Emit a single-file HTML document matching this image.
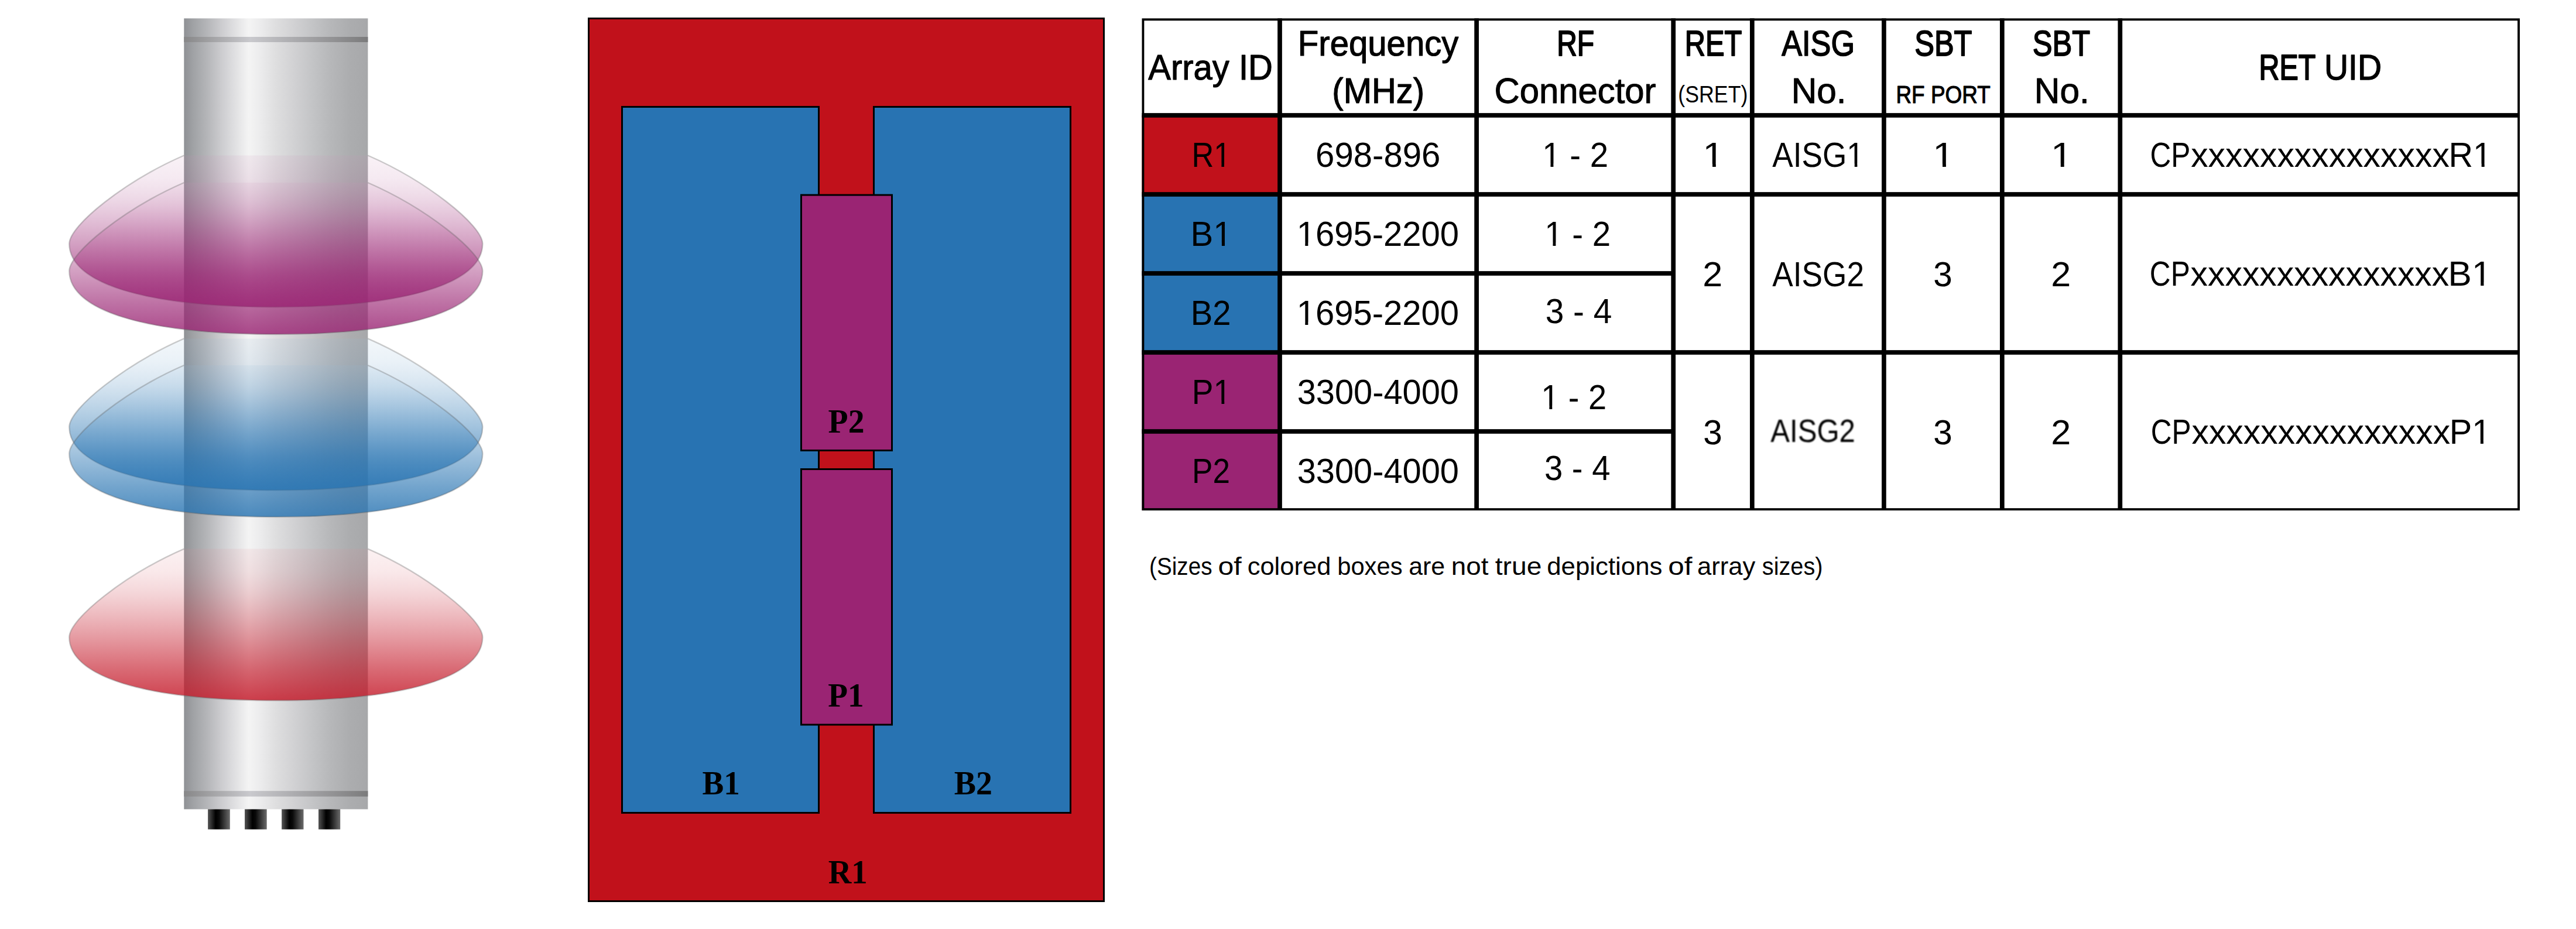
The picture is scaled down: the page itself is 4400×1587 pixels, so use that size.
<!DOCTYPE html>
<html lang="en"><head><meta charset="utf-8"><title>Antenna array layout</title>
<style>html,body{margin:0;padding:0;background:#fff}svg{display:block}text{font-kerning:normal}</style></head><body>
<svg width="4400" height="1587" viewBox="0 0 4400 1587">
<defs>
<linearGradient id="cyl" x1="0" y1="0" x2="1" y2="0"><stop offset="0" stop-color="#8f9195"/><stop offset="0.05" stop-color="#a0a2a5"/><stop offset="0.12" stop-color="#b3b4b7"/><stop offset="0.2" stop-color="#cbcbce"/><stop offset="0.27" stop-color="#dedee0"/><stop offset="0.352" stop-color="#f4f4f4"/><stop offset="0.42" stop-color="#ebebec"/><stop offset="0.5" stop-color="#dededf"/><stop offset="0.6" stop-color="#d1d1d3"/><stop offset="0.7" stop-color="#c3c4c6"/><stop offset="0.8" stop-color="#b6b7b9"/><stop offset="0.9" stop-color="#acadaf"/><stop offset="1" stop-color="#a7a8aa"/></linearGradient>
<linearGradient id="band" x1="0" y1="0" x2="1" y2="0"><stop offset="0" stop-color="#878788"/><stop offset="0.36" stop-color="#c9c9cd"/><stop offset="1" stop-color="#7b7b7c"/></linearGradient>
<linearGradient id="conn" x1="0" y1="0" x2="1" y2="0"><stop offset="0" stop-color="#555"/><stop offset="0.35" stop-color="#000"/><stop offset="0.5" stop-color="#0a0a0a"/><stop offset="1" stop-color="#6c6c6c"/></linearGradient>
<linearGradient id="gR" x1="0" y1="0" x2="0" y2="1"><stop offset="0" stop-color="rgb(226,140,148)" stop-opacity="0.12"/><stop offset="0.15" stop-color="rgb(214,93,104)" stop-opacity="0.14"/><stop offset="0.3" stop-color="rgb(203,52,66)" stop-opacity="0.21"/><stop offset="0.6" stop-color="rgb(196,24,40)" stop-opacity="0.45"/><stop offset="0.8" stop-color="rgb(196,24,40)" stop-opacity="0.65"/><stop offset="1" stop-color="rgb(196,24,40)" stop-opacity="0.83"/></linearGradient>
<linearGradient id="gB" x1="0" y1="0" x2="0" y2="1"><stop offset="0" stop-color="rgb(148,186,216)" stop-opacity="0.12"/><stop offset="0.15" stop-color="rgb(104,158,201)" stop-opacity="0.14"/><stop offset="0.3" stop-color="rgb(66,133,187)" stop-opacity="0.21"/><stop offset="0.6" stop-color="rgb(40,116,178)" stop-opacity="0.45"/><stop offset="0.8" stop-color="rgb(40,116,178)" stop-opacity="0.65"/><stop offset="1" stop-color="rgb(40,116,178)" stop-opacity="0.83"/></linearGradient>
<linearGradient id="gP" x1="0" y1="0" x2="0" y2="1"><stop offset="0" stop-color="rgb(204,146,185)" stop-opacity="0.12"/><stop offset="0.15" stop-color="rgb(184,102,157)" stop-opacity="0.14"/><stop offset="0.3" stop-color="rgb(166,62,132)" stop-opacity="0.21"/><stop offset="0.6" stop-color="rgb(154,36,115)" stop-opacity="0.45"/><stop offset="0.8" stop-color="rgb(154,36,115)" stop-opacity="0.65"/><stop offset="1" stop-color="rgb(154,36,115)" stop-opacity="0.83"/></linearGradient>
<filter id="blur" x="-5%" y="-20%" width="110%" height="140%"><feGaussianBlur stdDeviation="0.9"/></filter>
</defs>
<rect x="314.3" y="31.4" width="314.1" height="1351" fill="url(#cyl)"/>
<rect x="314.3" y="63" width="314.1" height="9" fill="url(#band)"/>
<rect x="314.3" y="1351.2" width="314.1" height="9.5" fill="url(#band)"/>
<rect x="355.1" y="1382.4" width="37.7" height="34.4" fill="url(#conn)"/>
<rect x="418" y="1382.4" width="37.7" height="34.4" fill="url(#conn)"/>
<rect x="481.1" y="1382.4" width="37.4" height="34.4" fill="url(#conn)"/>
<rect x="544" y="1382.4" width="37.2" height="34.4" fill="url(#conn)"/>
<path d="M314.3,265.5 L628.3,265.5 C728.4,309.1 824.3,384.9 824.3,416.5 C824.3,483.7 694.0,524.5 471.3,524.5 C248.6,524.5 118.3,483.7 118.3,416.5 C118.3,384.9 214.2,309.1 314.3,265.5 Z" fill="url(#gP)"/>
<path d="M628.3,265.5 C728.4,309.1 824.3,384.9 824.3,416.5 C824.3,483.7 694.0,524.5 471.3,524.5 C248.6,524.5 118.3,483.7 118.3,416.5 C118.3,384.9 214.2,309.1 314.3,265.5" fill="none" stroke="#606060" stroke-opacity="0.32" stroke-width="2.4"/>
<path d="M314.3,312.0 L628.3,312.0 C728.4,355.6 824.3,431.4 824.3,463.0 C824.3,530.2 694.0,571.0 471.3,571.0 C248.6,571.0 118.3,530.2 118.3,463.0 C118.3,431.4 214.2,355.6 314.3,312.0 Z" fill="url(#gP)"/>
<path d="M628.3,312.0 C728.4,355.6 824.3,431.4 824.3,463.0 C824.3,530.2 694.0,571.0 471.3,571.0 C248.6,571.0 118.3,530.2 118.3,463.0 C118.3,431.4 214.2,355.6 314.3,312.0" fill="none" stroke="#606060" stroke-opacity="0.32" stroke-width="2.4"/>
<path d="M314.3,578.4 L628.3,578.4 C728.4,622.0 824.3,697.8 824.3,729.4 C824.3,796.6 694.0,837.4 471.3,837.4 C248.6,837.4 118.3,796.6 118.3,729.4 C118.3,697.8 214.2,622.0 314.3,578.4 Z" fill="url(#gB)"/>
<path d="M628.3,578.4 C728.4,622.0 824.3,697.8 824.3,729.4 C824.3,796.6 694.0,837.4 471.3,837.4 C248.6,837.4 118.3,796.6 118.3,729.4 C118.3,697.8 214.2,622.0 314.3,578.4" fill="none" stroke="#606060" stroke-opacity="0.32" stroke-width="2.4"/>
<path d="M314.3,624.0 L628.3,624.0 C728.4,667.6 824.3,743.4 824.3,775.0 C824.3,842.2 694.0,883.0 471.3,883.0 C248.6,883.0 118.3,842.2 118.3,775.0 C118.3,743.4 214.2,667.6 314.3,624.0 Z" fill="url(#gB)"/>
<path d="M628.3,624.0 C728.4,667.6 824.3,743.4 824.3,775.0 C824.3,842.2 694.0,883.0 471.3,883.0 C248.6,883.0 118.3,842.2 118.3,775.0 C118.3,743.4 214.2,667.6 314.3,624.0" fill="none" stroke="#606060" stroke-opacity="0.32" stroke-width="2.4"/>
<path d="M314.3,937.6 L628.3,937.6 C728.4,981.2 824.3,1057.0 824.3,1088.6 C824.3,1155.8 694.0,1196.6 471.3,1196.6 C248.6,1196.6 118.3,1155.8 118.3,1088.6 C118.3,1057.0 214.2,981.2 314.3,937.6 Z" fill="url(#gR)"/>
<path d="M628.3,937.6 C728.4,981.2 824.3,1057.0 824.3,1088.6 C824.3,1155.8 694.0,1196.6 471.3,1196.6 C248.6,1196.6 118.3,1155.8 118.3,1088.6 C118.3,1057.0 214.2,981.2 314.3,937.6" fill="none" stroke="#606060" stroke-opacity="0.32" stroke-width="2.4"/>
<rect x="1005.5" y="31.5" width="880" height="1508" fill="#c1111b" stroke="#000" stroke-width="3"/>
<rect x="1062.5" y="182.5" width="336" height="1206" fill="#2873b2" stroke="#000" stroke-width="3"/>
<rect x="1492.5" y="182.5" width="336" height="1206" fill="#2873b2" stroke="#000" stroke-width="3"/>
<rect x="1368.5" y="333.1" width="155" height="436.4" fill="#9a2473" stroke="#000" stroke-width="3"/>
<rect x="1368.5" y="801.5" width="155" height="436.5" fill="#9a2473" stroke="#000" stroke-width="3"/>
<rect x="1950.5" y="197" width="235.5" height="135" fill="#c1111b"/>
<rect x="1950.5" y="332" width="235.5" height="135" fill="#2873b2"/>
<rect x="1950.5" y="467" width="235.5" height="135" fill="#2873b2"/>
<rect x="1950.5" y="602" width="235.5" height="135" fill="#9a2473"/>
<rect x="1950.5" y="737" width="235.5" height="135" fill="#9a2473"/>
<rect x="2182.15" y="31.4" width="7.7" height="840.6" fill="#000"/>
<rect x="2518.25" y="31.4" width="7.7" height="840.6" fill="#000"/>
<rect x="2854.35" y="31.4" width="7.7" height="840.6" fill="#000"/>
<rect x="2988.95" y="31.4" width="7.7" height="840.6" fill="#000"/>
<rect x="3214.05" y="31.4" width="7.7" height="840.6" fill="#000"/>
<rect x="3415.95" y="31.4" width="7.7" height="840.6" fill="#000"/>
<rect x="3617.45" y="31.4" width="7.7" height="840.6" fill="#000"/>
<rect x="1950.5" y="193.15" width="2353.5" height="7.7" fill="#000"/>
<rect x="1950.5" y="328.15" width="2353.5" height="7.7" fill="#000"/>
<rect x="1950.5" y="463.15" width="907.7" height="7.7" fill="#000"/>
<rect x="1950.5" y="598.15" width="2353.5" height="7.7" fill="#000"/>
<rect x="1950.5" y="733.15" width="907.7" height="7.7" fill="#000"/>
<rect x="1952.42" y="33.325" width="2349.65" height="836.75" fill="none" stroke="#000" stroke-width="3.85"/>
<text transform="translate(1961.22,135.80) scale(0.9479,1)" font-family="'Liberation Sans', Arial, sans-serif" font-size="61.2" fill="#000" stroke="#000" stroke-width="1.2" stroke-linejoin="round">Array ID</text>
<text transform="translate(2216.77,95.30) scale(0.9500,1)" font-family="'Liberation Sans', Arial, sans-serif" font-size="61.2" fill="#000" stroke="#000" stroke-width="1.19" stroke-linejoin="round">Frequency</text>
<text transform="translate(2275.35,175.90) scale(0.9468,1)" font-family="'Liberation Sans', Arial, sans-serif" font-size="61.2" fill="#000" stroke="#000" stroke-width="1.2" stroke-linejoin="round">(MHz)</text>
<text transform="translate(2659.19,95.30) scale(0.7834,1)" font-family="'Liberation Sans', Arial, sans-serif" font-size="61.2" fill="#000" stroke="#000" stroke-width="2.15" stroke-linejoin="round">RF</text>
<text transform="translate(2552.53,175.90) scale(0.9772,1)" font-family="'Liberation Sans', Arial, sans-serif" font-size="61.2" fill="#000" stroke="#000" stroke-width="1.06" stroke-linejoin="round">Connector</text>
<text transform="translate(2877.79,95.30) scale(0.7973,1)" font-family="'Liberation Sans', Arial, sans-serif" font-size="61.2" fill="#000" stroke="#000" stroke-width="2.05" stroke-linejoin="round">RET</text>
<text transform="translate(2866.37,174.90) scale(0.8822,1)" font-family="'Liberation Sans', Arial, sans-serif" font-size="40.5" fill="#000">(SRET)</text>
<text transform="translate(3043.20,95.30) scale(0.8539,1)" font-family="'Liberation Sans', Arial, sans-serif" font-size="61.2" fill="#000" stroke="#000" stroke-width="1.7" stroke-linejoin="round">AISG</text>
<text transform="translate(3059.63,175.90) scale(0.9856,1)" font-family="'Liberation Sans', Arial, sans-serif" font-size="61.2" fill="#000" stroke="#000" stroke-width="1.02" stroke-linejoin="round">No.</text>
<text transform="translate(3270.20,95.30) scale(0.8255,1)" font-family="'Liberation Sans', Arial, sans-serif" font-size="61.2" fill="#000" stroke="#000" stroke-width="1.87" stroke-linejoin="round">SBT</text>
<text transform="translate(3238.46,175.70) scale(0.8588,1)" font-family="'Liberation Sans', Arial, sans-serif" font-size="43" fill="#000" stroke="#000" stroke-width="1.17" stroke-linejoin="round">RF PORT</text>
<text transform="translate(3471.69,95.30) scale(0.8265,1)" font-family="'Liberation Sans', Arial, sans-serif" font-size="61.2" fill="#000" stroke="#000" stroke-width="1.86" stroke-linejoin="round">SBT</text>
<text transform="translate(3474.83,175.90) scale(0.9856,1)" font-family="'Liberation Sans', Arial, sans-serif" font-size="61.2" fill="#000" stroke="#000" stroke-width="1.02" stroke-linejoin="round">No.</text>
<text transform="translate(3858.53,136.00) scale(0.7919,1)" font-family="'Liberation Sans', Arial, sans-serif" font-size="61.2" fill="#000" stroke="#000" stroke-width="2.09" stroke-linejoin="round">RET</text>
<text transform="translate(3969.88,136.00) scale(0.9319,1)" font-family="'Liberation Sans', Arial, sans-serif" font-size="61.2" fill="#000" stroke="#000" stroke-width="1.28" stroke-linejoin="round">UID</text>
<clipPath id="k1"><path clip-rule="evenodd" d="M-20,-100 H94.7 V40 H-20 Z M45.10,-5.26 H56.92 V4 H45.10 Z M62.03,-5.26 H75.46 V4 H62.03 Z"/></clipPath>
<text transform="translate(2035.38,285.10) scale(0.8964,1)" font-family="'Liberation Sans', Arial, sans-serif" font-size="58.4" fill="#000" clip-path="url(#k1)">R1</text>
<text transform="translate(2247.09,285.10) scale(0.9951,1)" font-family="'Liberation Sans', Arial, sans-serif" font-size="58.4" fill="#000">698-896</text>
<clipPath id="k2"><path clip-rule="evenodd" d="M-20,-100 H136.9 V40 H-20 Z M2.92,-5.26 H14.75 V4 H2.92 Z M19.86,-5.26 H33.29 V4 H19.86 Z"/></clipPath>
<text transform="translate(2634.17,285.10) scale(0.9679,1)" font-family="'Liberation Sans', Arial, sans-serif" font-size="58.4" fill="#000" clip-path="url(#k2)">1 - 2</text>
<clipPath id="k3"><path clip-rule="evenodd" d="M-20,-100 H52.5 V40 H-20 Z M2.92,-5.26 H14.75 V4 H2.92 Z M19.86,-5.26 H33.29 V4 H19.86 Z"/></clipPath>
<text transform="translate(2908.37,285.10) scale(1.1299,1)" font-family="'Liberation Sans', Arial, sans-serif" font-size="58.4" fill="#000" clip-path="url(#k3)">1</text>
<clipPath id="k4"><path clip-rule="evenodd" d="M-20,-100 H192.0 V40 H-20 Z M142.48,-5.26 H154.30 V4 H142.48 Z M159.41,-5.26 H172.85 V4 H159.41 Z"/></clipPath>
<text transform="translate(3027.27,285.10) scale(0.9103,1)" font-family="'Liberation Sans', Arial, sans-serif" font-size="58.4" fill="#000" clip-path="url(#k4)">AISG1</text>
<clipPath id="k5"><path clip-rule="evenodd" d="M-20,-100 H52.5 V40 H-20 Z M2.92,-5.26 H14.75 V4 H2.92 Z M19.86,-5.26 H33.29 V4 H19.86 Z"/></clipPath>
<text transform="translate(3301.05,285.10) scale(1.1509,1)" font-family="'Liberation Sans', Arial, sans-serif" font-size="58.4" fill="#000" clip-path="url(#k5)">1</text>
<clipPath id="k6"><path clip-rule="evenodd" d="M-20,-100 H52.5 V40 H-20 Z M2.92,-5.26 H14.75 V4 H2.92 Z M19.86,-5.26 H33.29 V4 H19.86 Z"/></clipPath>
<text transform="translate(3502.71,285.10) scale(1.1579,1)" font-family="'Liberation Sans', Arial, sans-serif" font-size="58.4" fill="#000" clip-path="url(#k6)">1</text>
<text transform="translate(3672.42,285.10) scale(0.8498,1)" font-family="'Liberation Sans', Arial, sans-serif" font-size="58.4" fill="#000">CP</text>
<text transform="translate(3742.16,285.10) scale(1.0086,1)" font-family="'Liberation Sans', Arial, sans-serif" font-size="58.4" fill="#000">xxxxxxxxxxxxxxx</text>
<clipPath id="k7"><path clip-rule="evenodd" d="M-20,-100 H94.7 V40 H-20 Z M45.10,-5.26 H56.92 V4 H45.10 Z M62.03,-5.26 H75.46 V4 H62.03 Z"/></clipPath>
<text transform="translate(4182.44,285.10) scale(0.9872,1)" font-family="'Liberation Sans', Arial, sans-serif" font-size="58.4" fill="#000" clip-path="url(#k7)">R1</text>
<clipPath id="k8"><path clip-rule="evenodd" d="M-20,-100 H91.4 V40 H-20 Z M41.87,-5.26 H53.70 V4 H41.87 Z M58.81,-5.26 H72.24 V4 H58.81 Z"/></clipPath>
<text transform="translate(2033.51,420.10) scale(0.9941,1)" font-family="'Liberation Sans', Arial, sans-serif" font-size="58.4" fill="#000" clip-path="url(#k8)">B1</text>
<clipPath id="k9"><path clip-rule="evenodd" d="M-20,-100 H299.3 V40 H-20 Z M2.92,-5.26 H14.75 V4 H2.92 Z M19.86,-5.26 H33.29 V4 H19.86 Z"/></clipPath>
<text transform="translate(2214.63,420.10) scale(0.9932,1)" font-family="'Liberation Sans', Arial, sans-serif" font-size="58.4" fill="#000" clip-path="url(#k9)">1695-2200</text>
<clipPath id="k10"><path clip-rule="evenodd" d="M-20,-100 H136.9 V40 H-20 Z M2.92,-5.26 H14.75 V4 H2.92 Z M19.86,-5.26 H33.29 V4 H19.86 Z"/></clipPath>
<text transform="translate(2638.18,420.10) scale(0.9670,1)" font-family="'Liberation Sans', Arial, sans-serif" font-size="58.4" fill="#000" clip-path="url(#k10)">1 - 2</text>
<text transform="translate(2033.65,555.20) scale(0.9646,1)" font-family="'Liberation Sans', Arial, sans-serif" font-size="58.4" fill="#000">B2</text>
<clipPath id="k11"><path clip-rule="evenodd" d="M-20,-100 H299.3 V40 H-20 Z M2.92,-5.26 H14.75 V4 H2.92 Z M19.86,-5.26 H33.29 V4 H19.86 Z"/></clipPath>
<text transform="translate(2214.63,555.20) scale(0.9932,1)" font-family="'Liberation Sans', Arial, sans-serif" font-size="58.4" fill="#000" clip-path="url(#k11)">1695-2200</text>
<text transform="translate(2639.67,551.80) scale(0.9734,1)" font-family="'Liberation Sans', Arial, sans-serif" font-size="58.4" fill="#000">3 - 4</text>
<text transform="translate(2908.35,488.50) scale(1.0462,1)" font-family="'Liberation Sans', Arial, sans-serif" font-size="58.4" fill="#000">2</text>
<text transform="translate(3027.27,488.50) scale(0.9111,1)" font-family="'Liberation Sans', Arial, sans-serif" font-size="58.4" fill="#000">AISG2</text>
<text transform="translate(3302.31,488.50) scale(1.0022,1)" font-family="'Liberation Sans', Arial, sans-serif" font-size="58.4" fill="#000">3</text>
<text transform="translate(3503.15,488.50) scale(1.0462,1)" font-family="'Liberation Sans', Arial, sans-serif" font-size="58.4" fill="#000">2</text>
<text transform="translate(3671.82,488.10) scale(0.8498,1)" font-family="'Liberation Sans', Arial, sans-serif" font-size="58.4" fill="#000">CP</text>
<text transform="translate(3741.56,488.10) scale(1.0086,1)" font-family="'Liberation Sans', Arial, sans-serif" font-size="58.4" fill="#000">xxxxxxxxxxxxxxx</text>
<clipPath id="k12"><path clip-rule="evenodd" d="M-20,-100 H91.4 V40 H-20 Z M41.87,-5.26 H53.70 V4 H41.87 Z M58.81,-5.26 H72.24 V4 H58.81 Z"/></clipPath>
<text transform="translate(4181.61,488.10) scale(1.0348,1)" font-family="'Liberation Sans', Arial, sans-serif" font-size="58.4" fill="#000" clip-path="url(#k12)">B1</text>
<clipPath id="k13"><path clip-rule="evenodd" d="M-20,-100 H91.4 V40 H-20 Z M41.87,-5.26 H53.70 V4 H41.87 Z M58.81,-5.26 H72.24 V4 H58.81 Z"/></clipPath>
<text transform="translate(2035.86,689.80) scale(0.9422,1)" font-family="'Liberation Sans', Arial, sans-serif" font-size="58.4" fill="#000" clip-path="url(#k13)">P1</text>
<text transform="translate(2215.63,689.80) scale(0.9895,1)" font-family="'Liberation Sans', Arial, sans-serif" font-size="58.4" fill="#000">3300-4000</text>
<clipPath id="k14"><path clip-rule="evenodd" d="M-20,-100 H136.9 V40 H-20 Z M2.92,-5.26 H14.75 V4 H2.92 Z M19.86,-5.26 H33.29 V4 H19.86 Z"/></clipPath>
<text transform="translate(2632.23,698.80) scale(0.9578,1)" font-family="'Liberation Sans', Arial, sans-serif" font-size="58.4" fill="#000" clip-path="url(#k14)">1 - 2</text>
<text transform="translate(2036.02,824.80) scale(0.9096,1)" font-family="'Liberation Sans', Arial, sans-serif" font-size="58.4" fill="#000">P2</text>
<text transform="translate(2215.63,824.80) scale(0.9895,1)" font-family="'Liberation Sans', Arial, sans-serif" font-size="58.4" fill="#000">3300-4000</text>
<text transform="translate(2637.89,820.00) scale(0.9646,1)" font-family="'Liberation Sans', Arial, sans-serif" font-size="58.4" fill="#000">3 - 4</text>
<text transform="translate(2909.21,758.60) scale(1.0022,1)" font-family="'Liberation Sans', Arial, sans-serif" font-size="58.4" fill="#000">3</text>
<text transform="translate(3024.28,755.20) scale(0.8894,1)" font-family="'Liberation Sans', Arial, sans-serif" font-size="55.2" fill="#000" filter="url(#blur)">AISG2</text>
<text transform="translate(3302.31,758.60) scale(1.0022,1)" font-family="'Liberation Sans', Arial, sans-serif" font-size="58.4" fill="#000">3</text>
<text transform="translate(3503.15,758.60) scale(1.0462,1)" font-family="'Liberation Sans', Arial, sans-serif" font-size="58.4" fill="#000">2</text>
<text transform="translate(3673.72,757.60) scale(0.8498,1)" font-family="'Liberation Sans', Arial, sans-serif" font-size="58.4" fill="#000">CP</text>
<text transform="translate(3743.46,757.60) scale(1.0086,1)" font-family="'Liberation Sans', Arial, sans-serif" font-size="58.4" fill="#000">xxxxxxxxxxxxxxx</text>
<clipPath id="k15"><path clip-rule="evenodd" d="M-20,-100 H91.4 V40 H-20 Z M41.87,-5.26 H53.70 V4 H41.87 Z M58.81,-5.26 H72.24 V4 H58.81 Z"/></clipPath>
<text transform="translate(4183.74,757.60) scale(0.9885,1)" font-family="'Liberation Sans', Arial, sans-serif" font-size="58.4" fill="#000" clip-path="url(#k15)">P1</text>
<text transform="translate(1963.08,981.80) scale(0.9117,1)" font-family="'Liberation Sans', Arial, sans-serif" font-size="42.4" fill="#000">(Sizes</text>
<text transform="translate(2080.55,981.80) scale(1.1368,1)" font-family="'Liberation Sans', Arial, sans-serif" font-size="42.4" fill="#000">of</text>
<text transform="translate(2130.65,981.80) scale(1.0267,1)" font-family="'Liberation Sans', Arial, sans-serif" font-size="42.4" fill="#000">colored</text>
<text transform="translate(2284.19,981.80) scale(0.9847,1)" font-family="'Liberation Sans', Arial, sans-serif" font-size="42.4" fill="#000">boxes</text>
<text transform="translate(2406.18,981.80) scale(1.0110,1)" font-family="'Liberation Sans', Arial, sans-serif" font-size="42.4" fill="#000">are</text>
<text transform="translate(2478.82,981.80) scale(1.0779,1)" font-family="'Liberation Sans', Arial, sans-serif" font-size="42.4" fill="#000">not</text>
<text transform="translate(2553.81,981.80) scale(1.0879,1)" font-family="'Liberation Sans', Arial, sans-serif" font-size="42.4" fill="#000">true</text>
<text transform="translate(2642.24,981.80) scale(1.0329,1)" font-family="'Liberation Sans', Arial, sans-serif" font-size="42.4" fill="#000">depictions</text>
<text transform="translate(2849.30,981.80) scale(1.1666,1)" font-family="'Liberation Sans', Arial, sans-serif" font-size="42.4" fill="#000">of</text>
<text transform="translate(2898.95,981.80) scale(1.0279,1)" font-family="'Liberation Sans', Arial, sans-serif" font-size="42.4" fill="#000">array</text>
<text transform="translate(3009.81,981.80) scale(0.9368,1)" font-family="'Liberation Sans', Arial, sans-serif" font-size="42.4" fill="#000">sizes)</text>
<text transform="translate(1414.62,738.60) scale(0.9606,1)" font-family="'Liberation Serif', 'Times New Roman', serif" font-weight="bold" font-size="58" fill="#000">P2</text>
<text transform="translate(1414.33,1206.90) scale(0.9532,1)" font-family="'Liberation Serif', 'Times New Roman', serif" font-weight="bold" font-size="58" fill="#000">P1</text>
<text transform="translate(1199.44,1357.30) scale(0.9504,1)" font-family="'Liberation Serif', 'Times New Roman', serif" font-weight="bold" font-size="58" fill="#000">B1</text>
<text transform="translate(1629.82,1357.30) scale(0.9636,1)" font-family="'Liberation Serif', 'Times New Roman', serif" font-weight="bold" font-size="58" fill="#000">B2</text>
<text transform="translate(1414.64,1508.50) scale(0.9455,1)" font-family="'Liberation Serif', 'Times New Roman', serif" font-weight="bold" font-size="58" fill="#000">R1</text>
</svg></body></html>
